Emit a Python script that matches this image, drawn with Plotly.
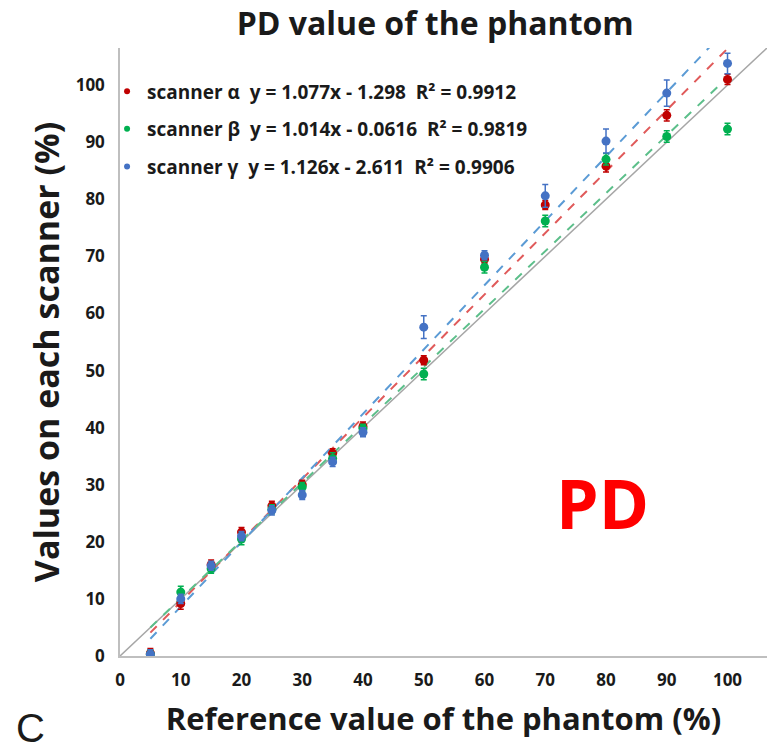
import plotly.graph_objects as go

# ---- data ----
ref = [5, 10, 15, 20, 25, 30, 35, 40, 50, 60, 70, 80, 90, 100]
alpha = [0.5, 9.2, 16.0, 21.7, 26.3, 30.0, 35.5, 40.2, 51.8, 69.5, 79.0, 85.8, 94.7, 101.0]
alpha_err = [0.8, 1.0, 0.8, 0.8, 0.8, 0.8, 0.8, 0.8, 0.8, 0.8, 0.8, 1.0, 1.0, 0.9]
beta = [0.3, 11.2, 15.3, 20.5, 25.7, 29.6, 34.6, 39.8, 49.4, 68.1, 76.2, 87.0, 91.0, 92.3]
beta_err = [0.8, 1.0, 0.8, 1.0, 0.8, 0.8, 1.0, 0.8, 1.0, 1.0, 1.0, 1.0, 1.0, 1.0]
gamma = [0.3, 10.0, 15.8, 21.0, 25.5, 28.2, 34.0, 39.2, 57.6, 70.2, 80.6, 90.2, 98.6, 103.8]
gamma_err = [0.8, 0.8, 0.8, 0.8, 0.8, 0.8, 0.8, 0.8, 2.0, 0.8, 2.0, 2.1, 2.3, 1.8]

names = ["scanner α  y = 1.077x - 1.298  R² = 0.9912",
         "scanner β  y = 1.014x - 0.0616  R² = 0.9819",
         "scanner γ  y = 1.126x - 2.611  R² = 0.9906"]
slopes = [1.077, 1.014, 1.126]
intercepts = [-1.298, -0.0616, -2.611]
fit_x = [5, 100]
identity = [0, 110]
tick_vals = [0, 10, 20, 30, 40, 50, 60, 70, 80, 90, 100]

marker_colors = ["#c00000", "#00b050", "#4472c4"]
line_colors = ["#e05a5a", "#5cbf8a", "#5b9bd5"]

AX_MAX = 106.5
FONT = "Open Sans"
INK = "#1a1a1a"

fig = go.Figure()

# identity line
fig.add_trace(go.Scatter(x=identity, y=identity, mode="lines",
                         line=dict(color="#a6a6a6", width=1.5),
                         showlegend=False, hoverinfo="skip"))

# trend lines
for s, b, c in zip(slopes, intercepts, line_colors):
    fig.add_trace(go.Scatter(x=fit_x, y=[s * v + b for v in fit_x], mode="lines",
                             line=dict(color=c, width=2, dash="dash"),
                             showlegend=False, hoverinfo="skip"))

# data with error bars
for ys, es, c in zip([alpha, beta, gamma], [alpha_err, beta_err, gamma_err], marker_colors):
    fig.add_trace(go.Scatter(x=ref, y=ys, mode="markers",
                             marker=dict(color=c, size=9),
                             error_y=dict(type="data", array=es, visible=True,
                                          color=c, thickness=1.5, width=3),
                             showlegend=False))

# legend entries (small dots)
for i, (nm, c) in enumerate(zip(names, marker_colors)):
    fig.add_trace(go.Scatter(x=[None], y=[None], mode="markers", name=nm,
                             legendgroup=f"g{i}",
                             marker=dict(color=c, size=6)))

fig.update_layout(
    width=780, height=751,
    margin=dict(l=120, r=13, t=48, b=95),
    paper_bgcolor="white", plot_bgcolor="white",
    font=dict(family=FONT, color=INK),
    title=dict(text="<b>PD value of the phantom</b>", x=0.558, xanchor="center",
               y=0.968, yanchor="middle", font=dict(size=32, family=FONT, color=INK)),
    xaxis=dict(range=[0, AX_MAX], tickmode="array", tickvals=tick_vals,
               showgrid=False, zeroline=False, showline=True, linecolor="#bfbfbf",
               linewidth=1.5, ticks="", ticklabelstandoff=8,
               tickfont=dict(size=17, weight="bold", family=FONT, color=INK),
               title=dict(text="<b>Reference value of the phantom (%)</b>",
                          font=dict(size=31, family=FONT, color=INK), standoff=18)),
    yaxis=dict(range=[0, AX_MAX], tickmode="array", tickvals=tick_vals,
               showgrid=False, zeroline=False, showline=True, linecolor="#bfbfbf",
               linewidth=1.5, ticks="", ticklabelstandoff=10,
               tickfont=dict(size=17, weight="bold", family=FONT, color=INK),
               title=dict(text="<b>Values on each scanner (%)</b>",
                          font=dict(size=34, family=FONT, color=INK), standoff=6)),
    legend=dict(x=-0.02, y=0.96, xanchor="left", yanchor="top",
                bgcolor="rgba(0,0,0,0)", tracegroupgap=10,
                font=dict(size=19, weight="bold", family=FONT, color=INK),
                itemwidth=30),
    showlegend=True,
)

fig.add_annotation(text="PD", xref="paper", yref="paper", x=0.745, y=0.252,
                   xanchor="center", yanchor="middle", showarrow=False,
                   font=dict(size=68, color="#ff0000", family=FONT, weight="bold"))
fig.add_annotation(text="C", xref="paper", yref="paper", x=-0.139, y=-0.118,
                   xanchor="center", yanchor="middle", showarrow=False,
                   font=dict(size=40, color=INK, family="Liberation Sans"))

fig.write_html("out.html")
